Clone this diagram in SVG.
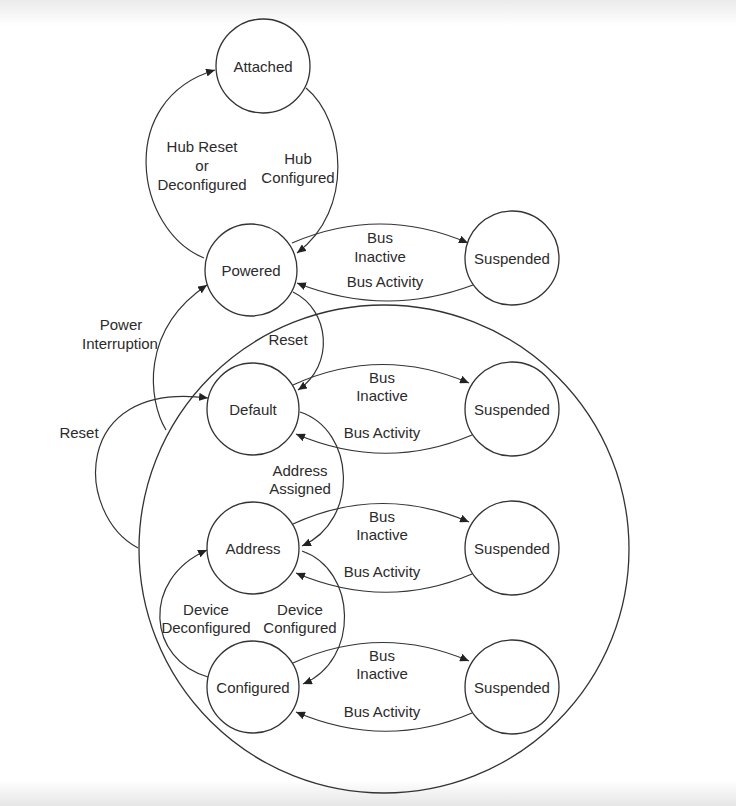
<svg xmlns="http://www.w3.org/2000/svg" width="736" height="806" viewBox="0 0 736 806">
<style>
.st{fill:#fff;stroke:#333;stroke-width:1.3}
.cn{fill:none;stroke:#333;stroke-width:1.2}
text{font-family:"Liberation Sans",Arial,sans-serif;font-size:15px;fill:#2b2b2b;text-anchor:middle;dominant-baseline:central}
</style>
<defs>
<linearGradient id="gt" x1="0" y1="0" x2="0" y2="1"><stop offset="0" stop-color="#ebebeb"/><stop offset="1" stop-color="#fff"/></linearGradient>
<linearGradient id="gb" x1="0" y1="0" x2="0" y2="1"><stop offset="0" stop-color="#fff"/><stop offset="1" stop-color="#e6e6e6"/></linearGradient>
<marker id="ah" markerUnits="userSpaceOnUse" markerWidth="10" markerHeight="8" refX="9" refY="4" orient="auto"><path d="M0,0 L9,4 L0,8 z" fill="#222"/></marker>
</defs>
<rect width="736" height="806" fill="#fff"/>
<rect width="736" height="26" fill="url(#gt)"/>
<rect y="780" width="736" height="26" fill="url(#gb)"/>

<g id="group-state"><ellipse class="st" cx="384" cy="549" rx="245" ry="244" fill="none" style="fill:none"/></g>

<g id="connectors">
<path class="cn" marker-end="url(#ah)" d="M204 258 C135 230,115 100,215 70"/>
<path class="cn" marker-end="url(#ah)" d="M306 88 C345 120,355 210,297 253"/>
<path class="cn" marker-end="url(#ah)" d="M292 243 Q380 205,468 243"/>
<path class="cn" marker-end="url(#ah)" d="M473 285 Q385 318,297 283"/>
<path class="cn" marker-end="url(#ah)" d="M293 292 C330 310,335 365,298 390"/>
<path class="cn" marker-end="url(#ah)" d="M166 430 C148 400,140 330,207 285"/>
<path class="cn" marker-end="url(#ah)" d="M138 548 C75 515,70 380,208 398"/>
<path class="cn" marker-end="url(#ah)" d="M300 412 C355 430,360 520,302 546"/>
<path class="cn" marker-end="url(#ah)" d="M293 385 Q380 345,469 383"/>
<path class="cn" marker-end="url(#ah)" d="M472 435 Q385 472,296 434"/>
<path class="cn" marker-end="url(#ah)" d="M293 524 Q380 484,469 522"/>
<path class="cn" marker-end="url(#ah)" d="M472 574 Q385 611,296 573"/>
<path class="cn" marker-end="url(#ah)" d="M302 551 C357 570,360 660,303 684"/>
<path class="cn" marker-end="url(#ah)" d="M208 677 C148 660,140 580,207 550"/>
<path class="cn" marker-end="url(#ah)" d="M293 663 Q380 623,469 661"/>
<path class="cn" marker-end="url(#ah)" d="M472 713 Q385 750,296 712"/>
<text x="202" y="146">Hub Reset</text>
<text x="202" y="165">or</text>
<text x="202" y="184">Deconfigured</text>
<text x="298" y="158">Hub</text>
<text x="298" y="177">Configured</text>
<text x="380" y="237">Bus</text>
<text x="380" y="256">Inactive</text>
<text x="385" y="281">Bus Activity</text>
<text x="121" y="324">Power</text>
<text x="120" y="343">Interruption</text>
<text x="288" y="339">Reset</text>
<text x="79" y="432">Reset</text>
<text x="382" y="377">Bus</text>
<text x="382" y="395">Inactive</text>
<text x="382" y="432">Bus Activity</text>
<text x="300" y="470">Address</text>
<text x="300" y="488">Assigned</text>
<text x="382" y="516">Bus</text>
<text x="382" y="534">Inactive</text>
<text x="382" y="571">Bus Activity</text>
<text x="206" y="609">Device</text>
<text x="206" y="627">Deconfigured</text>
<text x="300" y="609">Device</text>
<text x="300" y="627">Configured</text>
<text x="382" y="655">Bus</text>
<text x="382" y="673">Inactive</text>
<text x="382" y="711">Bus Activity</text>
</g>

<g id="attached"><circle class="st" cx="263" cy="66" r="47"/><text x="263" y="66">Attached</text></g>
<g id="powered"><circle class="st" cx="251" cy="270" r="46"/><text x="251" y="270">Powered</text></g>
<g id="suspended-powered"><circle class="st" cx="512" cy="258" r="47"/><text x="512" y="258">Suspended</text></g>
<g id="default"><circle class="st" cx="253" cy="409" r="46"/><text x="253" y="409">Default</text></g>
<g id="suspended-default"><circle class="st" cx="512" cy="409" r="47"/><text x="512" y="409">Suspended</text></g>
<g id="address"><circle class="st" cx="253" cy="548" r="46"/><text x="253" y="548">Address</text></g>
<g id="suspended-address"><circle class="st" cx="512" cy="548" r="47"/><text x="512" y="548">Suspended</text></g>
<g id="configured"><circle class="st" cx="253" cy="687" r="46"/><text x="253" y="687">Configured</text></g>
<g id="suspended-configured"><circle class="st" cx="512" cy="687" r="47"/><text x="512" y="687">Suspended</text></g>
</svg>
